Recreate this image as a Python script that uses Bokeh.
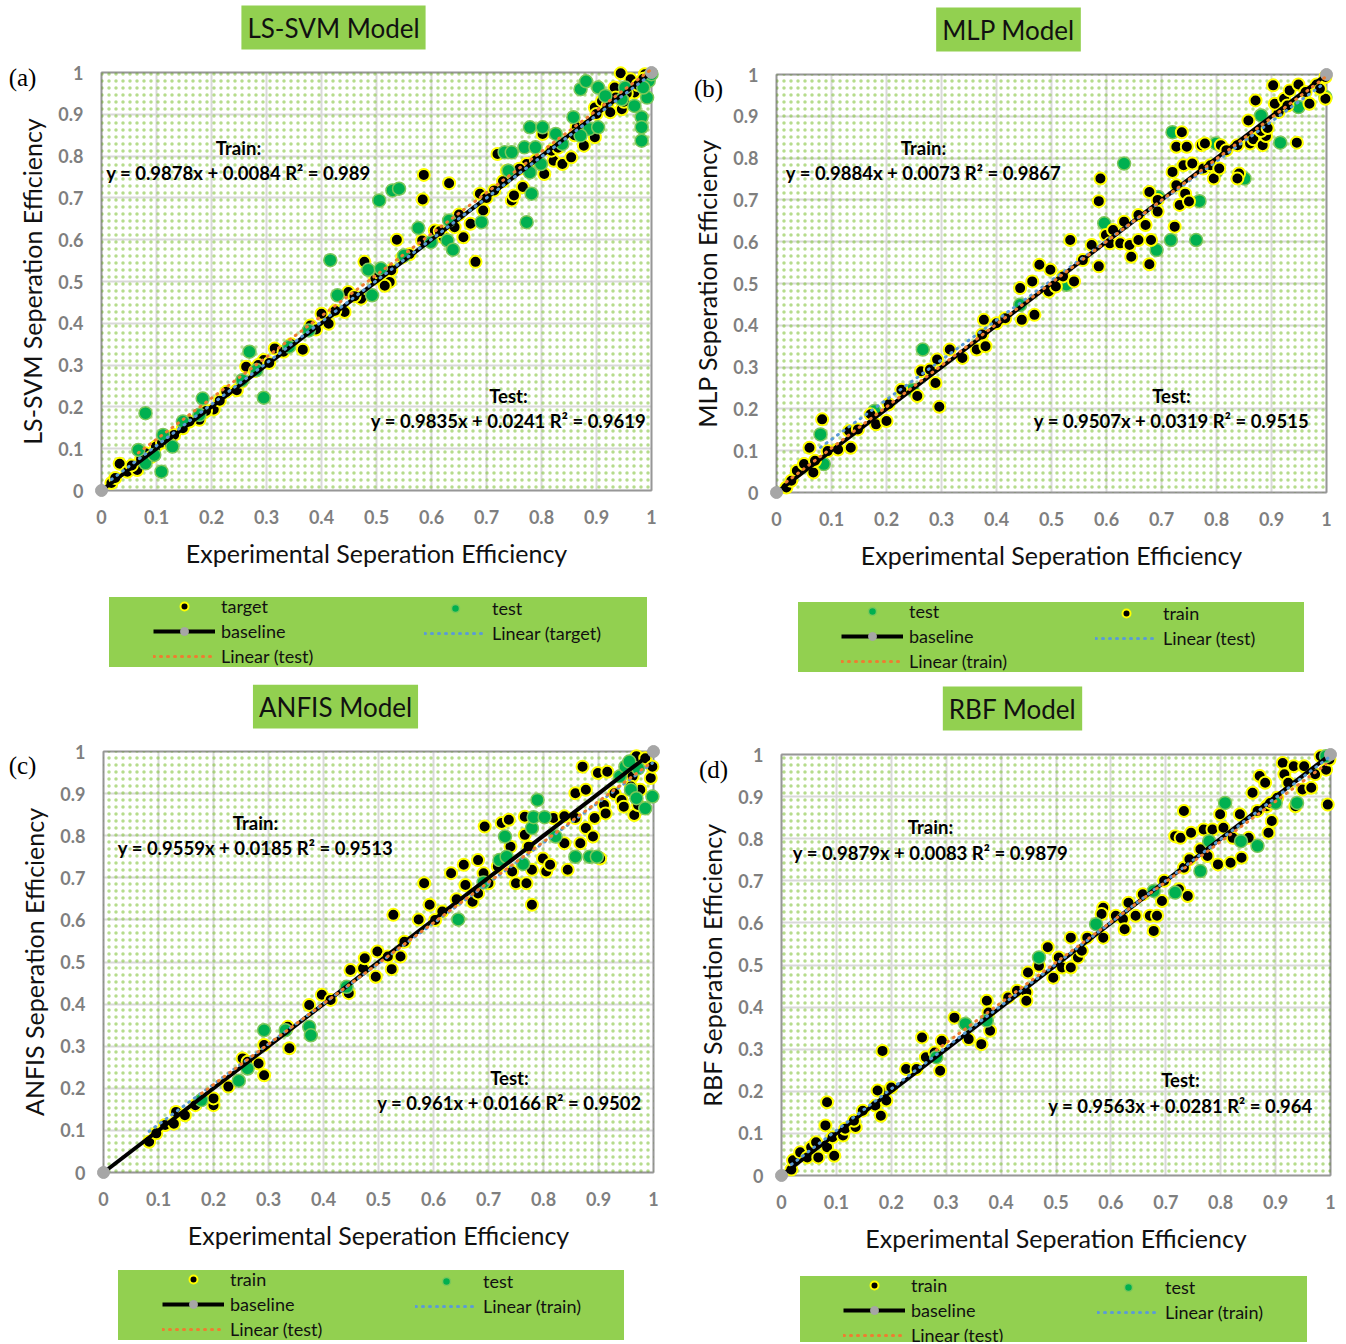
from bokeh.plotting import figure
from bokeh.models import (Range1d, FixedTicker, NumeralTickFormatter, Label, Legend,
                          LegendItem, BoxAnnotation, LinearAxis, Grid)
from bokeh.layouts import row, column
from bokeh.embed import file_html
from bokeh.resources import INLINE

# ---------------- data ----------------
ticks = [0, 0.1, 0.2, 0.3, 0.4, 0.5, 0.6, 0.7, 0.8, 0.9, 1]
base_x = [0, 1]
base_y = [0, 1]

# (a) LS-SVM
a_train_x = [0.018,0.033,0.047,0.065,0.080,0.099,0.119,0.132,0.148,0.178,0.204,0.184,0.227,0.246,0.263,0.279,0.295,0.315,0.331,0.366,
             0.380,0.400,0.413,0.442,0.449,0.472,0.478,0.498,0.524,0.527,0.537,0.547,0.583,0.606,0.622,0.642,0.658,0.671,0.680,0.694,
             0.688,0.714,0.720,0.737,0.746,0.766,0.750,0.773,0.802,0.805,0.822,0.838,0.854,0.818,0.877,0.897,0.864,0.897,0.910,0.946,
             0.933,0.944,0.962,0.969,0.988,0.900,0.586,0.632,0.584,
             0.025,0.055,0.072,0.090,0.110,0.125,0.160,0.190,0.215,0.255,0.285,0.305,0.345,0.390,0.425,0.460,0.505,0.515,0.560,0.615,
             0.650,0.700,0.730,0.760,0.790,0.830,0.860,0.880,0.920,0.935,0.955,0.975,0.985,0.995,0.925,0.950]
a_train_y = [0.018,0.064,0.045,0.049,0.089,0.105,0.121,0.133,0.149,0.169,0.194,0.185,0.236,0.240,0.296,0.286,0.312,0.340,0.332,0.337,
             0.395,0.423,0.399,0.427,0.475,0.459,0.547,0.507,0.499,0.527,0.600,0.558,0.598,0.622,0.606,0.630,0.606,0.638,0.547,0.670,
             0.710,0.718,0.805,0.765,0.694,0.726,0.706,0.781,0.853,0.757,0.789,0.781,0.797,0.813,0.825,0.845,0.869,0.916,0.932,0.912,
             0.964,0.998,0.984,0.952,0.996,0.901,0.755,0.735,0.696,
             0.030,0.060,0.075,0.080,0.115,0.110,0.165,0.190,0.215,0.260,0.300,0.305,0.350,0.385,0.430,0.465,0.520,0.490,0.565,0.620,
             0.660,0.700,0.740,0.770,0.790,0.820,0.850,0.870,0.920,0.940,0.950,0.970,0.985,0.990,0.905,0.930]
a_test_x = [0.109,0.080,0.080,0.067,0.096,0.129,0.112,0.184,0.178,0.148,0.295,0.269,0.256,0.282,0.341,0.377,0.416,0.429,0.492,0.485,
            0.508,0.550,0.505,0.529,0.541,0.576,0.599,0.629,0.639,0.632,0.691,0.773,0.782,0.740,0.733,0.746,0.769,0.789,0.779,0.802,
            0.826,0.838,0.779,0.799,0.858,0.887,0.903,0.871,0.871,0.881,0.903,0.916,0.946,0.969,0.982,0.982,0.982,0.992,0.995,0.952,
            0.985,1.000]
a_test_y = [0.045,0.185,0.065,0.097,0.085,0.105,0.133,0.220,0.181,0.165,0.222,0.332,0.264,0.288,0.344,0.383,0.551,0.467,0.467,0.528,
            0.531,0.562,0.694,0.718,0.722,0.628,0.594,0.598,0.576,0.646,0.642,0.642,0.710,0.765,0.809,0.809,0.821,0.821,0.869,0.869,
            0.853,0.829,0.761,0.781,0.893,0.865,0.869,0.849,0.960,0.979,0.964,0.944,0.936,0.920,0.893,0.869,0.837,0.940,0.980,0.964,
            0.964,0.996]

# (b) MLP
b_train_x = [0.018,0.027,0.037,0.050,0.067,0.060,0.070,0.083,0.093,0.112,0.135,0.132,0.148,0.171,0.181,0.200,0.204,0.227,0.256,0.263,
             0.279,0.289,0.296,0.292,0.315,0.338,0.364,0.374,0.377,0.380,0.400,0.416,0.446,0.443,0.469,0.465,0.478,0.495,0.498,0.508,
             0.521,0.541,0.534,0.573,0.586,0.557,0.586,0.589,0.599,0.606,0.612,0.632,0.625,0.642,0.645,0.658,0.658,0.671,0.678,0.681,
             0.678,0.693,0.693,0.724,0.720,0.727,0.733,0.743,0.750,0.740,0.737,0.727,0.746,0.756,0.773,0.779,0.776,0.789,0.795,0.805,
             0.808,0.818,0.838,0.841,0.838,0.861,0.867,0.884,0.890,0.881,0.893,0.858,0.913,0.871,0.903,0.906,0.923,0.946,0.933,0.949,
             0.962,0.969,0.982,0.998,0.998,0.988,0.929]
b_train_y = [0.012,0.028,0.052,0.068,0.048,0.107,0.076,0.175,0.099,0.103,0.107,0.147,0.151,0.187,0.163,0.171,0.211,0.246,0.231,0.290,
             0.294,0.262,0.205,0.318,0.342,0.322,0.342,0.378,0.413,0.350,0.405,0.417,0.413,0.489,0.425,0.505,0.545,0.481,0.533,0.493,
             0.517,0.505,0.604,0.592,0.541,0.556,0.697,0.751,0.616,0.596,0.628,0.648,0.596,0.592,0.564,0.604,0.664,0.640,0.546,0.604,
             0.719,0.700,0.672,0.636,0.767,0.735,0.688,0.715,0.696,0.783,0.862,0.827,0.827,0.787,0.831,0.835,0.775,0.783,0.751,0.775,
             0.831,0.819,0.831,0.763,0.751,0.835,0.845,0.831,0.853,0.865,0.872,0.890,0.910,0.938,0.974,0.930,0.942,0.837,0.962,0.976,
             0.958,0.930,0.976,0.942,0.994,0.966,0.926]
b_test_x = [0.086,0.080,0.266,0.247,0.178,0.443,0.527,0.596,0.632,0.691,0.717,0.763,0.769,0.720,0.851,0.799,0.916,0.881,0.949,0.998,
            0.799,0.694]
b_test_y = [0.068,0.139,0.342,0.246,0.195,0.449,0.497,0.644,0.787,0.580,0.604,0.604,0.697,0.862,0.751,0.835,0.837,0.902,0.922,0.946,
            0.767,0.707]

# (c) ANFIS
c_train_x = [0.083,0.096,0.112,0.128,0.132,0.148,0.167,0.200,0.200,0.227,0.253,0.262,0.282,0.292,0.292,0.338,0.335,0.374,0.397,0.413,
             0.446,0.449,0.472,0.475,0.495,0.498,0.517,0.524,0.540,0.547,0.527,0.573,0.583,0.593,0.603,0.616,0.632,0.642,0.658,0.655,
             0.671,0.681,0.681,0.691,0.693,0.700,0.717,0.724,0.737,0.740,0.743,0.750,0.769,0.766,0.766,0.773,0.779,0.779,0.799,0.805,
             0.812,0.818,0.838,0.838,0.844,0.858,0.867,0.877,0.890,0.893,0.903,0.910,0.913,0.858,0.877,0.871,0.899,0.916,0.929,0.942,
             0.946,0.965,0.972,0.962,0.969,0.985,0.995,0.998,0.976,0.959]
c_train_y = [0.073,0.093,0.113,0.116,0.144,0.136,0.160,0.160,0.176,0.204,0.271,0.263,0.259,0.231,0.303,0.295,0.346,0.398,0.422,0.410,
             0.426,0.481,0.485,0.509,0.465,0.525,0.513,0.483,0.513,0.548,0.612,0.601,0.687,0.636,0.600,0.620,0.711,0.649,0.683,0.731,
             0.643,0.663,0.742,0.711,0.822,0.687,0.727,0.830,0.838,0.774,0.715,0.687,0.687,0.845,0.802,0.774,0.719,0.636,0.746,0.715,
             0.731,0.842,0.846,0.782,0.719,0.842,0.782,0.818,0.798,0.842,0.746,0.873,0.853,0.901,0.909,0.964,0.949,0.952,0.901,0.885,
             0.869,0.849,0.873,0.941,0.989,0.984,0.937,0.964,0.909,0.917]
c_test_x = [0.178,0.246,0.262,0.292,0.331,0.374,0.377,0.442,0.645,0.691,0.720,0.733,0.730,0.763,0.779,0.782,0.789,0.802,0.822,0.858,
            0.884,0.897,0.939,0.949,0.959,0.969,0.985,0.998,0.972,0.956]
c_test_y = [0.172,0.218,0.247,0.338,0.338,0.346,0.326,0.441,0.601,0.689,0.742,0.750,0.798,0.733,0.818,0.844,0.885,0.844,0.798,0.750,
            0.750,0.750,0.941,0.964,0.909,0.889,0.865,0.893,0.960,0.976]

# (d) RBF
d_train_x = [0.018,0.021,0.034,0.047,0.054,0.063,0.067,0.080,0.083,0.083,0.093,0.096,0.112,0.116,0.135,0.132,0.148,0.171,0.181,0.184,
             0.191,0.184,0.175,0.200,0.227,0.246,0.256,0.263,0.289,0.292,0.279,0.315,0.341,0.364,0.374,0.377,0.380,0.413,0.429,0.446,
             0.446,0.449,0.469,0.485,0.495,0.505,0.511,0.527,0.527,0.540,0.547,0.557,0.586,0.586,0.583,0.609,0.622,0.625,0.632,0.645,
             0.658,0.671,0.678,0.684,0.693,0.697,0.717,0.727,0.724,0.733,0.740,0.743,0.733,0.746,0.763,0.769,0.776,0.785,0.795,0.799,
             0.805,0.818,0.822,0.835,0.838,0.851,0.858,0.867,0.871,0.881,0.884,0.887,0.893,0.903,0.913,0.916,0.923,0.933,0.936,0.949,
             0.952,0.965,0.972,0.982,0.992,0.995,0.998,0.890]
d_train_y = [0.014,0.036,0.055,0.043,0.067,0.079,0.043,0.119,0.174,0.067,0.091,0.047,0.095,0.111,0.115,0.130,0.154,0.166,0.142,0.198,
             0.178,0.296,0.202,0.209,0.253,0.253,0.328,0.281,0.249,0.320,0.292,0.375,0.324,0.312,0.415,0.387,0.344,0.423,0.439,0.435,
             0.415,0.482,0.498,0.542,0.470,0.518,0.494,0.494,0.565,0.518,0.534,0.565,0.565,0.636,0.621,0.617,0.609,0.585,0.648,0.617,
             0.668,0.617,0.581,0.617,0.652,0.700,0.806,0.802,0.680,0.731,0.664,0.751,0.866,0.814,0.775,0.822,0.759,0.822,0.739,0.858,
             0.826,0.743,0.802,0.858,0.755,0.802,0.909,0.866,0.949,0.933,0.877,0.814,0.842,0.897,0.980,0.953,0.933,0.972,0.877,0.917,
             0.972,0.921,0.953,0.996,0.964,0.881,0.988,0.885]
d_test_x = [0.282,0.335,0.374,0.469,0.573,0.678,0.717,0.763,0.779,0.808,0.837,0.867,0.900,0.939,0.992]
d_test_y = [0.281,0.360,0.368,0.518,0.597,0.676,0.672,0.723,0.794,0.885,0.794,0.783,0.885,0.885,0.996]

# trend line coefficients (slope, intercept) as printed on the chart
a_train_fit = (0.9878, 0.0084); a_test_fit = (0.9835, 0.0241)
b_train_fit = (0.9884, 0.0073); b_test_fit = (0.9507, 0.0319)
c_train_fit = (0.9559, 0.0185); c_test_fit = (0.961, 0.0166)
d_train_fit = (0.9879, 0.0083); d_test_fit = (0.9563, 0.0281)

# ---------------- styling ----------------
FONT = "Lato"
BOX_GREEN = "#92d050"
TICK_GREY = "#7f7f7f"
BLUE = "#5b9bd5"
ORANGE = "#ed7d31"

panels = [
    dict(title="LS-SVM Model", letter="(a)", ylabel="LS-SVM Seperation Efficiency",
         train=(a_train_x, a_train_y), test=(a_test_x, a_test_y),
         train_fit=a_train_fit, test_fit=a_test_fit,
         train_name="target", order="train_first",
         train_eq="y = 0.9878x + 0.0084 R\u00b2 = 0.989", test_eq="y = 0.9835x + 0.0241 R\u00b2 = 0.9619",
         origin=(0, 0), size=(668, 684), frame=(101, 490, 550, 418),
         title_c=(333, 27), letter_c=(22, 77),
         trainlab=(238, 147, 172), testlab=(508, 395, 420),
         bg=(109, 597, 538), col1=(153, 611), col2=(424, 611)),
    dict(title="MLP Model", letter="(b)", ylabel="MLP Seperation Efficiency",
         train=(b_train_x, b_train_y), test=(b_test_x, b_test_y),
         train_fit=b_train_fit, test_fit=b_test_fit,
         train_name="train", order="test_first",
         train_eq="y = 0.9884x + 0.0073 R\u00b2 = 0.9867", test_eq="y = 0.9507x + 0.0319 R\u00b2 = 0.9515",
         origin=(668, 0), size=(676, 684), frame=(776, 492, 550, 418),
         title_c=(1008, 29), letter_c=(708, 88),
         trainlab=(923, 147, 172), testlab=(1171, 395, 420),
         bg=(798, 602, 506), col1=(841, 616), col2=(1095, 616)),
    dict(title="ANFIS Model", letter="(c)", ylabel="ANFIS Seperation Efficiency",
         train=(c_train_x, c_train_y), test=(c_test_x, c_test_y),
         train_fit=c_train_fit, test_fit=c_test_fit,
         train_name="train", order="train_first",
         train_eq="y = 0.9559x + 0.0185 R\u00b2 = 0.9513", test_eq="y = 0.961x + 0.0166 R\u00b2 = 0.9502",
         origin=(0, 684), size=(668, 658), frame=(103, 1172, 550, 421),
         title_c=(335, 706), letter_c=(22, 765),
         trainlab=(255, 822, 847), testlab=(509, 1077, 1102),
         bg=(118, 1270, 506), col1=(162, 1284), col2=(415, 1284)),
    dict(title="RBF Model", letter="(d)", ylabel="RBF Seperation Efficiency",
         train=(d_train_x, d_train_y), test=(d_test_x, d_test_y),
         train_fit=d_train_fit, test_fit=d_test_fit,
         train_name="train", order="train_first",
         train_eq="y = 0.9879x + 0.0083 R\u00b2 = 0.9879", test_eq="y = 0.9563x + 0.0281 R\u00b2 = 0.964",
         origin=(668, 684), size=(676, 658), frame=(781, 1175, 549, 421),
         title_c=(1012, 708), letter_c=(713, 769),
         trainlab=(930, 826, 852), testlab=(1180, 1079, 1105),
         bg=(800, 1276, 507), col1=(843, 1290), col2=(1097, 1290)),
]


def make_panel(cfg):
    ox, oy = cfg["origin"]
    W, H = cfg["size"]
    fl, fb, fw, fh = cfg["frame"]

    def d(px, py):
        return ((px - fl) / fw, (fb - py) / fh)

    def loc(px, py_bottom):
        return (px - ox, (oy + H) - py_bottom)

    p = figure(frame_width=W, frame_height=H,
               x_range=Range1d((ox - fl) / fw, (ox + W - fl) / fw),
               y_range=Range1d((fb - (oy + H)) / fh, (fb - oy) / fh),
               x_axis_type=None, y_axis_type=None,
               output_backend="svg", toolbar_location=None,
               min_border=0, min_border_left=0, min_border_right=0, min_border_top=0, min_border_bottom=0,
               background_fill_color="white", border_fill_color="white", outline_line_color=None)

    # grid restricted to the plot box
    for dim in (0, 1):
        p.add_layout(Grid(dimension=dim, ticker=FixedTicker(ticks=ticks), bounds=(0, 1), cross_bounds=(0, 1),
                          grid_line_color="#d9d9d9", grid_line_width=2))
    # dotted green background pattern
    p.add_layout(BoxAnnotation(left=0, right=1, bottom=0, top=1, fill_alpha=0, line_alpha=0,
                               hatch_pattern="dot", hatch_color="#86c440", hatch_scale=7,
                               hatch_weight=0.5, hatch_alpha=0.6, level="underlay"))
    # plot box border
    p.add_layout(BoxAnnotation(left=0, right=1, bottom=0, top=1, fill_alpha=0, line_color="black",
                               line_width=2, level="underlay"))

    xaxis = LinearAxis(fixed_location=0, bounds=(0, 1), axis_label="Experimental Seperation Efficiency")
    yaxis = LinearAxis(fixed_location=0, bounds=(0, 1), axis_label=cfg["ylabel"])
    for ax in (xaxis, yaxis):
        ax.ticker = FixedTicker(ticks=ticks)
        ax.formatter = NumeralTickFormatter(format="0.[0]")
        ax.axis_line_color = None
        ax.major_tick_line_color = None
        ax.minor_tick_line_color = None
        ax.major_tick_out = 0
        ax.major_tick_in = 0
        ax.minor_tick_out = 0
        ax.minor_tick_in = 0
        ax.major_label_text_font = FONT
        ax.major_label_text_font_style = "bold"
        ax.major_label_text_font_size = "18px"
        ax.major_label_text_color = TICK_GREY
        ax.axis_label_text_font = FONT
        ax.axis_label_text_font_style = "normal"
        ax.axis_label_text_font_size = "25px"
        ax.axis_label_text_color = "#111111"
    xaxis.major_label_standoff = 19
    xaxis.axis_label_standoff = 11
    yaxis.major_label_standoff = 18
    yaxis.axis_label_standoff = 8
    p.add_layout(xaxis, "below")
    p.add_layout(yaxis, "left")

    trx, try_ = cfg["train"]
    tsx, tsy = cfg["test"]

    def draw_train():
        return p.scatter(trx, try_, size=12, fill_color="black", line_color="#ffff00", line_width=2)

    def draw_test():
        return p.scatter(tsx, tsy, size=13, fill_color="#00b050", line_color="#7cc85a", line_width=1.5)

    if cfg["order"] == "train_first":
        r_train = draw_train()
        r_test = draw_test()
    else:
        r_test = draw_test()
        r_train = draw_train()

    r_base_line = p.line(base_x, base_y, line_color="black", line_width=4)
    r_base_pts = p.scatter(base_x, base_y, size=12, fill_color="#a6a6a6", line_color="#a6a6a6")

    def trend(xs, fit, color):
        x0, x1 = min(xs), max(xs)
        m, c = fit
        return p.line([x0, x1], [m * x0 + c, m * x1 + c], line_color=color, line_width=3,
                      line_dash="1 6", line_cap="round")

    if cfg["order"] == "train_first":
        r_tr_fit = trend(trx, cfg["train_fit"], BLUE)
        r_ts_fit = trend(tsx, cfg["test_fit"], ORANGE)
    else:
        r_ts_fit = trend(tsx, cfg["test_fit"], BLUE)
        r_tr_fit = trend(trx, cfg["train_fit"], ORANGE)

    # title box
    tx, ty = d(*cfg["title_c"])
    p.add_layout(Label(x=tx, y=ty, text=cfg["title"], text_align="center", text_baseline="middle",
                       text_font=FONT, text_font_size="26px", text_color="#111111",
                       background_fill_color=BOX_GREEN, padding=6))
    # panel letter
    lx, ly = d(*cfg["letter_c"])
    p.add_layout(Label(x=lx, y=ly, text=cfg["letter"], text_align="center", text_baseline="middle",
                       text_font="Liberation Serif", text_font_size="25px", text_color="black"))
    # equations
    for key, head, eq in (("trainlab", "Train:", cfg["train_eq"]), ("testlab", "Test:", cfg["test_eq"])):
        cx, y1, y2 = cfg[key]
        hx, hy = d(cx, y1)
        ex, ey = d(cx, y2)
        p.add_layout(Label(x=hx, y=hy, text=head, text_align="center", text_baseline="middle",
                           text_font=FONT, text_font_style="bold", text_font_size="18.5px", text_color="black"))
        p.add_layout(Label(x=ex, y=ey, text=eq, text_align="center", text_baseline="middle",
                           text_font=FONT, text_font_style="bold", text_font_size="18.5px", text_color="black"))

    # legend background box (one invisible item sized to the box)
    bgx, bgy, bgw = cfg["bg"]
    r_empty = p.line([], [], line_alpha=0)
    bg_leg = Legend(items=[LegendItem(label=" ", renderers=[r_empty])],
                    location=loc(bgx, bgy + 70), padding=0, margin=0, spacing=0,
                    glyph_width=bgw, glyph_height=70, label_height=70, label_width=0,
                    label_standoff=0, label_text_font_size="1px",
                    background_fill_color=BOX_GREEN, background_fill_alpha=1,
                    border_line_color=None)
    p.add_layout(bg_leg)

    if cfg["order"] == "train_first":
        first_name, first_r = cfg["train_name"], r_train
        second_name, second_r = "test", r_test
        fit1_name, fit1_r = "Linear (%s)" % cfg["train_name"], r_tr_fit
        fit2_name, fit2_r = "Linear (test)", r_ts_fit
    else:
        first_name, first_r = "test", r_test
        second_name, second_r = cfg["train_name"], r_train
        fit1_name, fit1_r = "Linear (test)", r_ts_fit
        fit2_name, fit2_r = "Linear (%s)" % cfg["train_name"], r_tr_fit

    col1_items = [LegendItem(label=first_name, renderers=[first_r]),
                  LegendItem(label="baseline", renderers=[r_base_line, r_base_pts]),
                  LegendItem(label=fit2_name, renderers=[fit2_r])]
    col2_items = [LegendItem(label=second_name, renderers=[second_r]),
                  LegendItem(label=fit1_name, renderers=[fit1_r])]

    common = dict(padding=0, margin=0, spacing=3, glyph_width=62, glyph_height=20, label_height=20,
                  label_standoff=6, label_text_font=FONT, label_text_font_size="18px",
                  label_text_color="#111111", background_fill_alpha=0, border_line_color=None)
    c1x, c1y = cfg["col1"]
    c2x, c2y = cfg["col2"]
    leg1 = Legend(items=col1_items, location=loc(c1x, c1y - 10 + 66), **common)
    leg2 = Legend(items=col2_items, location=loc(c2x, c2y - 10 + 43), **common)
    p.add_layout(leg1)
    p.add_layout(leg2)
    return p


figs = [make_panel(c) for c in panels]
layout = column(row(figs[0], figs[1]), row(figs[2], figs[3]))

open("out.html", "w").write(file_html(layout, INLINE))
